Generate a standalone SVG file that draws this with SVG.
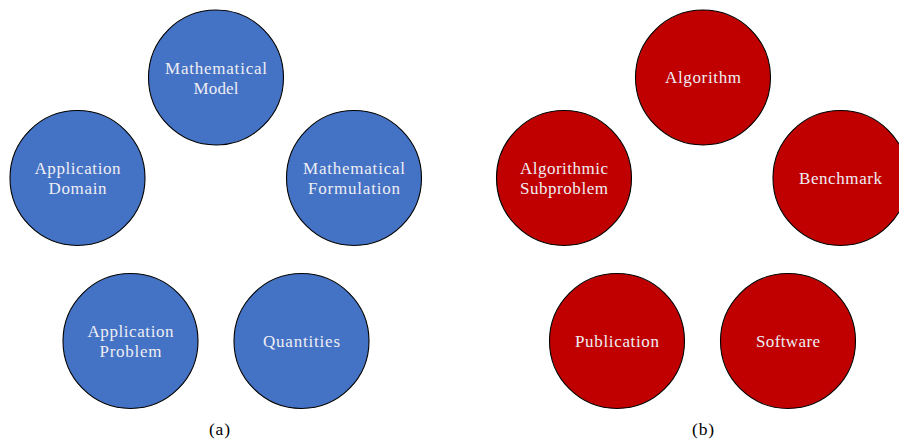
<svg xmlns="http://www.w3.org/2000/svg" width="899" height="442" viewBox="0 0 899 442">
<style>
.b{fill:#4472C4;stroke:#000;stroke-width:1.1}
.r{fill:#C00000;stroke:#000;stroke-width:1.1}
.t{font-family:'Liberation Serif','Times New Roman',serif;font-size:17px;fill:#EEEEF4;text-anchor:middle}
.c{font-family:'Liberation Serif','Times New Roman',serif;font-size:17.5px;fill:#000;text-anchor:middle}
</style>
<rect width="899" height="442" fill="#fff"/>
<g id="model"><circle class="b" cx="216" cy="77.5" r="67.5"/><text class="t" x="216" y="73.5" textLength="102" lengthAdjust="spacing">Mathematical</text><text class="t" x="216" y="93.5" textLength="45" lengthAdjust="spacing">Model</text></g>
<g id="domain"><circle class="b" cx="77.5" cy="178" r="67.5"/><text class="t" x="77.5" y="174" textLength="86" lengthAdjust="spacing">Application</text><text class="t" x="77.5" y="194" textLength="58" lengthAdjust="spacing">Domain</text></g>
<g id="formulation"><circle class="b" cx="354" cy="178" r="67.5"/><text class="t" x="354" y="174" textLength="102" lengthAdjust="spacing">Mathematical</text><text class="t" x="354" y="194" textLength="92" lengthAdjust="spacing">Formulation</text></g>
<g id="problem"><circle class="b" cx="130.5" cy="341" r="67.5"/><text class="t" x="130.5" y="337" textLength="86" lengthAdjust="spacing">Application</text><text class="t" x="130.5" y="357" textLength="62" lengthAdjust="spacing">Problem</text></g>
<g id="quantities"><circle class="b" cx="301.5" cy="341" r="67.5"/><text class="t" x="301.5" y="346.5" textLength="77" lengthAdjust="spacing">Quantities</text></g>
<text class="c" x="219.5" y="435" textLength="21" lengthAdjust="spacing">(a)</text>
<g id="algorithm"><circle class="r" cx="703" cy="77.5" r="67.5"/><text class="t" x="703" y="83" textLength="76" lengthAdjust="spacing">Algorithm</text></g>
<g id="subproblem"><circle class="r" cx="564" cy="178" r="67.5"/><text class="t" x="564" y="174" textLength="88" lengthAdjust="spacing">Algorithmic</text><text class="t" x="564" y="194" textLength="88" lengthAdjust="spacing">Subproblem</text></g>
<g id="benchmark"><circle class="r" cx="840.5" cy="178" r="67.5"/><text class="t" x="840.5" y="183.5" textLength="83" lengthAdjust="spacing">Benchmark</text></g>
<g id="publication"><circle class="r" cx="617" cy="341" r="67.5"/><text class="t" x="617" y="346.5" textLength="84" lengthAdjust="spacing">Publication</text></g>
<g id="software"><circle class="r" cx="788" cy="341" r="67.5"/><text class="t" x="788" y="346.5" textLength="64" lengthAdjust="spacing">Software</text></g>
<text class="c" x="703" y="435" textLength="22" lengthAdjust="spacing">(b)</text>
<g id="connectors"/>
</svg>
